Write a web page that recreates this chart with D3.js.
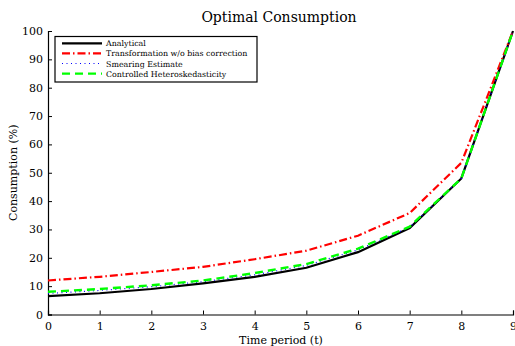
<!DOCTYPE html>
<html>
<head>
<meta charset="utf-8">
<script src="https://cdn.jsdelivr.net/npm/d3@7"></script>
<style>
  body { margin: 0; background: #fff; }
</style>
</head>
<body>
<div id="chart"></div>
<script>
const periods = [0, 1, 2, 3, 4, 5, 6, 7, 8, 9];
const analytical = [6.5, 7.5, 9.0, 11.0, 13.3, 16.5, 22.0, 30.5, 48.0, 100];
const transformation = [12.0, 13.3, 15.0, 16.8, 19.5, 22.5, 27.8, 35.8, 53.5, 100];
const smearing = [7.4, 8.5, 9.8, 11.6, 14.0, 17.3, 22.8, 30.8, 48.0, 100];
const controlled = [8.0, 9.0, 10.3, 12.0, 14.6, 17.8, 23.2, 31.0, 48.0, 100];
const yTicks = [0, 10, 20, 30, 40, 50, 60, 70, 80, 90, 100];

const series = [
  { name: "Analytical", values: analytical, color: "#000", width: 2.2, dash: null },
  { name: "Transformation w/o bias correction", values: transformation, color: "#ff0000", width: 2.2, dash: "8,3,1.5,3" },
  { name: "Smearing Estimate", values: smearing, color: "#0000ff", width: 1.2, dash: "1,3.5" },
  { name: "Controlled Heteroskedasticity", values: controlled, color: "#00ff00", width: 2.4, dash: "8,5" }
];

const FONT = "DejaVu Serif";

const W = 515, H = 346;
const margin = { top: 31, right: 2, bottom: 31.5, left: 48 };
const width = W - margin.left - margin.right;
const height = H - margin.top - margin.bottom;

const svg = d3.select("#chart").append("svg")
  .attr("width", W).attr("height", H)
  .attr("font-family", FONT);

const g = svg.append("g")
  .attr("transform", `translate(${margin.left},${margin.top})`);

const x = d3.scaleLinear().domain([0, 9]).range([0, width]);
const y = d3.scaleLinear().domain([0, 100]).range([height, 0]);

// axes
const xAxis = g.append("g")
  .attr("transform", `translate(0,${height})`)
  .call(d3.axisBottom(x).tickValues(periods).tickSize(-4).tickPadding(8).tickFormat(d3.format("d")));
const yAxis = g.append("g")
  .call(d3.axisLeft(y).tickValues(yTicks).tickSize(-4).tickPadding(5));

[xAxis, yAxis].forEach(a => {
  a.attr("font-family", FONT).attr("font-size", 11);
  a.select(".domain").attr("stroke", "#000").attr("stroke-width", 1.2);
  a.selectAll(".tick line").attr("stroke", "#000");
  a.selectAll("text").attr("fill", "#000");
});

const line = d3.line()
  .x((d, i) => x(periods[i]))
  .y(d => y(d));

series.forEach(s => {
  g.append("path")
    .datum(s.values)
    .attr("fill", "none")
    .attr("stroke", s.color)
    .attr("stroke-width", s.width)
    .attr("stroke-dasharray", s.dash)
    .attr("d", line);
});

// title and labels
svg.append("text")
  .attr("x", 279).attr("y", 22)
  .attr("text-anchor", "middle")
  .attr("font-size", 14)
  .text("Optimal Consumption");

svg.append("text")
  .attr("x", 281).attr("y", 344)
  .attr("text-anchor", "middle")
  .attr("font-size", 11)
  .text("Time period (t)");

svg.append("text")
  .attr("transform", `translate(17,${margin.top + height / 2}) rotate(-90)`)
  .attr("text-anchor", "middle")
  .attr("font-size", 11)
  .text("Consumption (%)");

// legend
const legend = svg.append("g").attr("transform", "translate(55,36.5)");
legend.append("rect")
  .attr("width", 202).attr("height", 45.5)
  .attr("fill", "#fff").attr("stroke", "#000").attr("stroke-width", 1.2);

series.forEach((s, i) => {
  const ly = 6.8 + i * 10.1;
  legend.append("line")
    .attr("x1", 7).attr("x2", 47)
    .attr("y1", ly).attr("y2", ly)
    .attr("stroke", s.color)
    .attr("stroke-width", s.width)
    .attr("stroke-dasharray", s.dash);
  legend.append("text")
    .attr("x", 51).attr("y", ly + 3)
    .attr("font-size", 7.9)
    .text(s.name);
});
</script>
</body>
</html>
